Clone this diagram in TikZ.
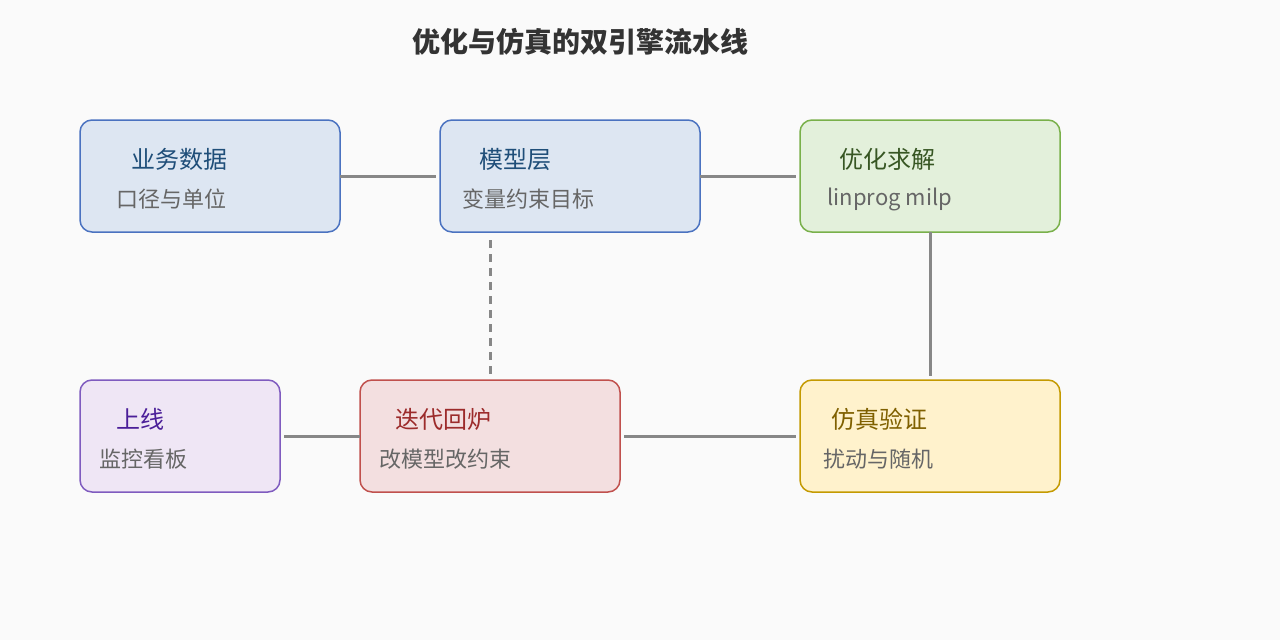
\documentclass[tikz,border=0pt]{standalone}
\usepackage{fontspec}
\setmainfont{Noto Sans CJK SC}
\begin{document}
\begin{tikzpicture}[x=1pt,y=-1pt,
box/.style={draw,line width=1.5pt,rounded corners=12pt},
ttl/.style={anchor=west,font=\fontsize{24}{28}\selectfont},
sub/.style={anchor=west,font=\fontsize{22}{26}\selectfont,text=black!60},
ln/.style={draw=black!47,line width=3pt}]
\fill[white!98!black] (0,0) rectangle (1280,640);
\useasboundingbox (0,0) rectangle (1280,640);
\node[font=\fontsize{28}{32}\selectfont\bfseries,text=black!80] (t) at (580,42) {优化与仿真的双引擎流水线};
\definecolor{bf}{HTML}{DDE6F2}\definecolor{bd}{HTML}{4A72C0}\definecolor{bt}{HTML}{1F4E79}
\definecolor{gf}{HTML}{E3F0DB}\definecolor{gd}{HTML}{79B04A}\definecolor{gt}{HTML}{375623}
\definecolor{pf}{HTML}{EFE6F5}\definecolor{pd}{HTML}{7F5BBF}\definecolor{pt}{HTML}{4B1F99}
\definecolor{rf}{HTML}{F3DFE0}\definecolor{rd}{HTML}{C0504D}\definecolor{rt}{HTML}{9C2B2B}
\definecolor{yf}{HTML}{FFF2CC}\definecolor{yd}{HTML}{C49A00}\definecolor{yt}{HTML}{7F6000}
\draw[box,fill=bf,draw=bd] (80,120) rectangle (340,232);
\draw[box,fill=bf,draw=bd] (440,120) rectangle (700,232);
\draw[box,fill=gf,draw=gd] (800,120) rectangle (1060,232);
\draw[box,fill=pf,draw=pd] (80,380) rectangle (280,492);
\draw[box,fill=rf,draw=rd] (360,380) rectangle (620,492);
\draw[box,fill=yf,draw=yd] (800,380) rectangle (1060,492);
\coordinate (a1) at (340,176); \coordinate (a2) at (436,176);
\coordinate (b1) at (700,176); \coordinate (b2) at (796,176);
\coordinate (c1) at (930,232); \coordinate (c2) at (930,376);
\coordinate (d1) at (624,436); \coordinate (d2) at (796,436);
\coordinate (e1) at (284,436); \coordinate (e2) at (360,436);
\coordinate (f1) at (490,240); \coordinate (f2) at (490,376);
\draw[ln] (a1)--(a2); \draw[ln] (b1)--(b2); \draw[ln] (c1)--(c2);
\draw[ln] (d1)--(d2); \draw[ln] (e1)--(e2);
\draw[ln,dash pattern=on 8pt off 6pt] (f1)--(f2);
\node[ttl,text=bt] (n1) at (128,159) {业务数据};
\node[sub] (s1) at (113,199) {口径与单位};
\node[ttl,text=bt] (n2) at (476,159) {模型层};
\node[sub] (s2) at (459,199) {变量约束目标};
\node[ttl,text=gt] (n3) at (836,159) {优化求解};
\node[sub] (s3) at (824,199) {linprog milp};
\node[ttl,text=pt] (n4) at (113,419) {上线};
\node[sub] (s4) at (96,459) {监控看板};
\node[ttl,text=rt] (n5) at (392,419) {迭代回炉};
\node[sub] (s5) at (376,459) {改模型改约束};
\node[ttl,text=yt] (n6) at (828,419) {仿真验证};
\node[sub] (s6) at (820,459) {扰动与随机};
\end{tikzpicture}
\end{document}
